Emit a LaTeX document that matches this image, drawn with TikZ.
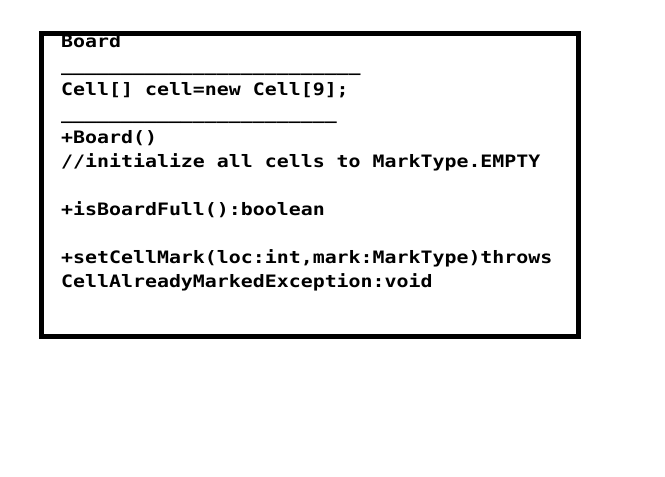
\documentclass[tikz,border=0pt]{standalone}
\usepackage{fontspec}
\newfontfamily\umlfont{DejaVu Sans Mono}
\newcommand\umlrow[1]{\scalebox{1}[0.86]{#1}}
\begin{document}
\begin{tikzpicture}[x=1pt,y=-1pt,
  umlbox/.style={draw=black, line width=5pt, minimum width=537pt, minimum height=303pt, inner sep=0pt, fill=white},
  umltext/.style={anchor=base west, inner sep=0pt, font=\umlfont\bfseries\fontsize{19.9}{24}\selectfont}]
\useasboundingbox (0,0) rectangle (665,477);
\fill[white] (0,0) rectangle (665,477);
\node[umlbox] (board) at (309.5,184.5) {};
\node[umltext] (name) at (61,47.2) {\umlrow{Board}};
\node[umltext] (sep1) at (61,71.4) {\umlrow{\_\_\_\_\_\_\_\_\_\_\_\_\_\_\_\_\_\_\_\_\_\_\_\_\_}};
\node[umltext] (attr) at (61,95.6) {\umlrow{Cell[] cell=new Cell[9];}};
\node[umltext] (sep2) at (61,119.4) {\umlrow{\_\_\_\_\_\_\_\_\_\_\_\_\_\_\_\_\_\_\_\_\_\_\_}};
\node[umltext] (op1) at (61,143.4) {\umlrow{+Board()}};
\node[umltext] (op1c) at (61,167.4) {\umlrow{//initialize all cells to MarkType.EMPTY}};
\node[umltext] (op2) at (61,215.4) {\umlrow{+isBoardFull():boolean}};
\node[umltext] (op3) at (61,263.4) {\umlrow{+setCellMark(loc:int,mark:MarkType)throws}};
\node[umltext] (op3b) at (61,287.4) {\umlrow{CellAlreadyMarkedException:void}};
\end{tikzpicture}
\end{document}
